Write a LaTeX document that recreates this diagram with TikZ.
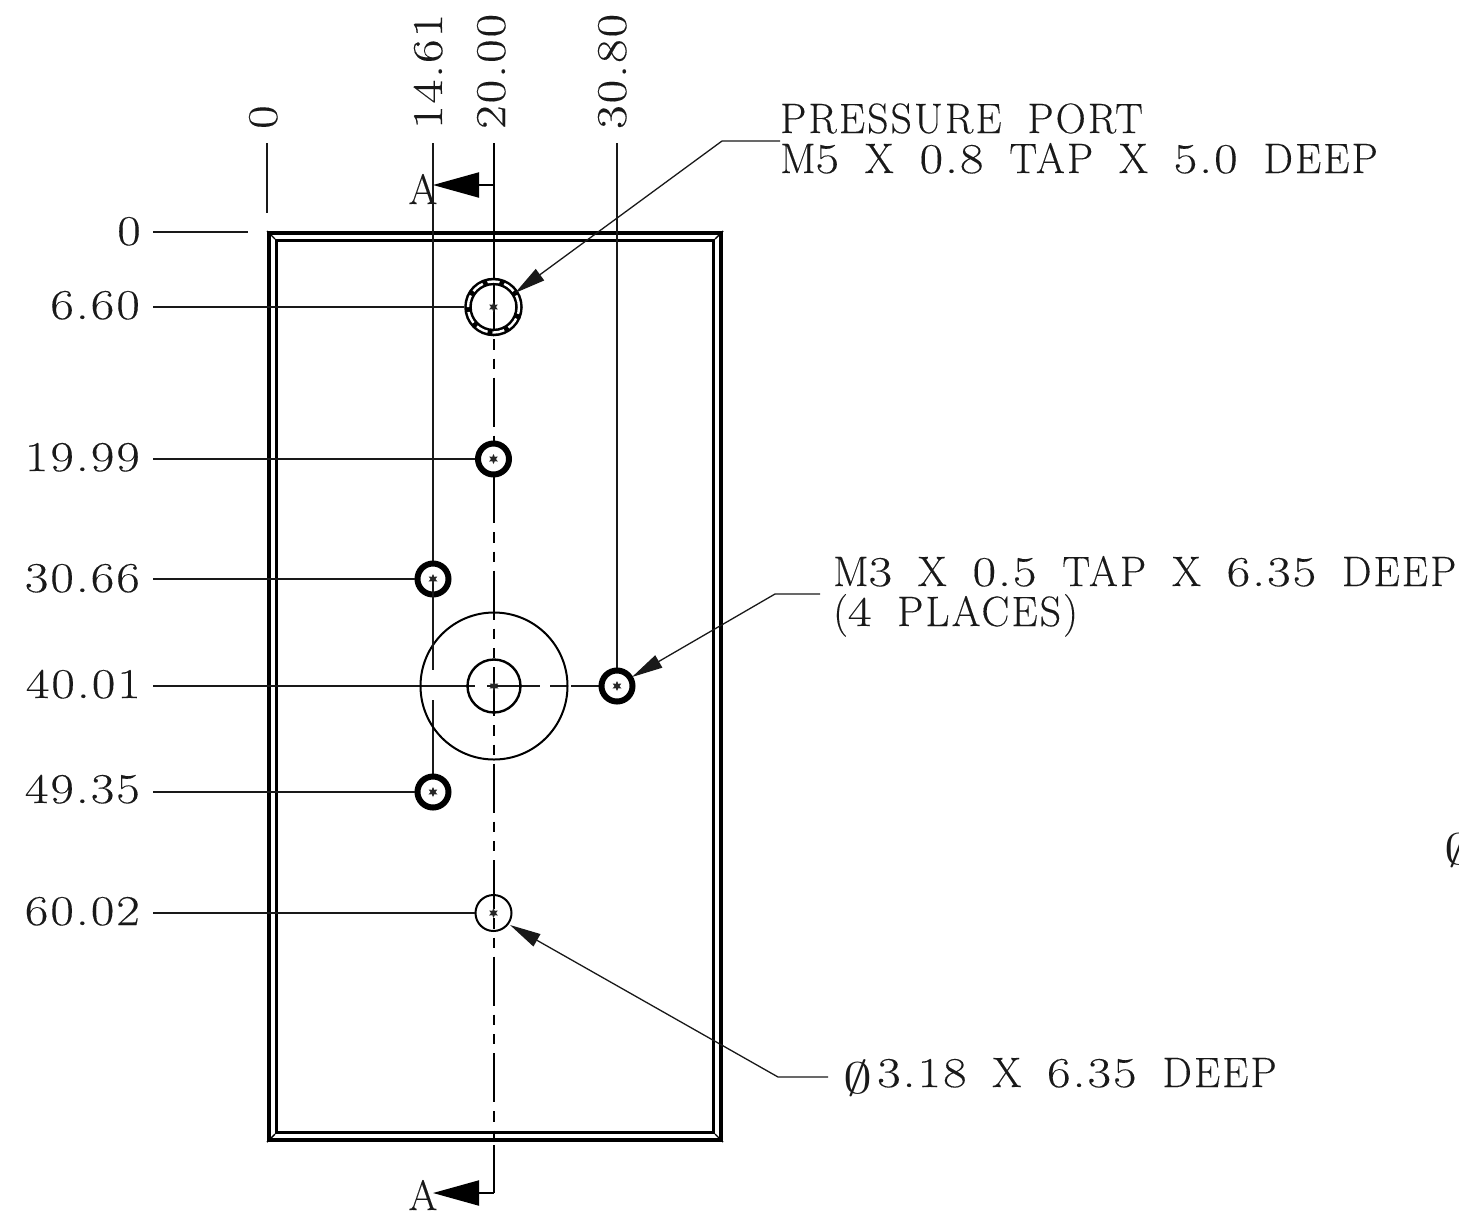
\documentclass[tikz,border=0pt]{standalone}
\usepackage{fontspec}
\usetikzlibrary{arrows.meta,calc,shapes.geometric}
\newfontfamily\cadfont[FakeStretch=0.98,LetterSpace=5,WordSpace=1.76,FakeBold=0.25]{Latin Modern Roman}
\newfontfamily\numfont[FakeStretch=1.2,LetterSpace=5,WordSpace=1.76,FakeBold=0.25]{Latin Modern Roman}
\newcommand{\dg}[1]{{\numfont #1}}
\newcommand{\diasym}{\resizebox{29pt}{33pt}{$\emptyset$}}
\tikzset{
  cad/.style={font=\cadfont\fontsize{42.5}{40}\selectfont,inner sep=0pt,text=black!90},
  num/.style={font=\numfont\fontsize{42.5}{40}\selectfont,inner sep=0pt,text=black!90},
  dimline/.style={line width=1.3pt,black!90},
  bigtip/.style={-{Triangle[length=46pt,width=25pt]}},
  leader/.style={dimline,-{Triangle[length=31pt,width=14pt]}},
  holeline/.style={circle,draw=black,inner sep=0pt},
  hole/.style={holeline,fill=white,line width=6pt,minimum size=31pt},
  thinhole/.style={holeline,line width=2pt},
  centredot/.style={star,star points=6,star point ratio=2,fill=black!85,inner sep=0pt,minimum size=10pt},
  centreline/.style={line width=2pt,black,dash pattern=on 49pt off 9pt on 10.5pt off 9pt on 10pt off 9pt},
}
\begin{document}
\begin{tikzpicture}[x=1pt,y=-1pt]
\useasboundingbox (0,0) rectangle (1459,1211);
% anchors
\coordinate (pc) at (493.5,307);
\coordinate (h2c) at (493.5,459);
\coordinate (h3c) at (433,579);
\coordinate (h4c) at (433,792);
\coordinate (h5c) at (617,686);
\coordinate (h6c) at (493.5,913);
\coordinate (bc) at (494,686);
% plate
\node[draw=black,line width=4pt,minimum width=452pt,minimum height=907pt,inner sep=0pt] (outer) at (495,686.5) {};
\node[draw=black,line width=3pt,minimum width=437pt,minimum height=892pt,inner sep=0pt] (inner) at (495,686.5) {};
\foreach \a in {north west,north east,south west,south east}{\draw[line width=1.4pt] (outer.\a)--(inner.\a);}
% centre and dim lines
\coordinate (ct) at (493.5,143);
\coordinate (ctb) at (493.5,281);
\coordinate (cbb) at (493.5,1145);
\coordinate (cb) at (493.5,1193);
\coordinate (sa1) at (493.5,185);
\coordinate (sa1t) at (433,185);
\coordinate (sa2t) at (433,1193);
\draw[line width=2pt] (ct)--(ctb);
\draw[centreline] (ctb)--(cbb);
\draw[line width=2pt] (cbb)--(cb);
\draw[line width=2pt,bigtip] (sa1)--(sa1t);
\draw[line width=2pt,bigtip] (cb)--(sa2t);
% extension lines
\coordinate (v0a) at (267,143);\coordinate (v0b) at (267,213);
\coordinate (h0a) at (153,232);\coordinate (h0b) at (248,232);
\draw[dimline] (v0a)--(v0b);
\draw[dimline] (h0a)--(h0b);
\coordinate (v146) at (433,143);
\coordinate (v308) at (617,143);
\coordinate (gapa) at (433,670);
\coordinate (gapb) at (433,700);
\draw[dimline] (v146)--(h3c);
\draw[dimline] (gapb)--(h4c);
\draw[dimline] (v308)--(h5c);
\coordinate (lbc) at (153,686);
\coordinate (bce) at (617,686);
\coordinate (ga) at (475,686);
\coordinate (gb) at (487,686);
\coordinate (gc) at (540,686);
\coordinate (gd) at (550,686);
\coordinate (ge) at (567,686);
\coordinate (gf) at (571,686);
\draw[dimline] (lbc)--(ga);
\draw[dimline] (gb)--(gc);
\draw[dimline] (gd)--(ge);
\draw[dimline] (gf)--(bce);
% holes
\node[holeline,line width=7.5pt,minimum size=51pt] (port) at (pc) {};
\draw[white,line width=2.4pt,dash pattern=on 12pt off 5pt] (pc) circle (25.5pt);
\node[hole] (h2) at (h2c) {};
\node[hole] (h3) at (h3c) {};
\node[hole] (h4) at (h4c) {};
\node[hole] (h5) at (h5c) {};
\node[thinhole,minimum size=36pt] (h6) at (h6c) {};
\node[thinhole,minimum size=147pt] (big) at (bc) {};
\node[thinhole,minimum size=53pt,line width=2.4pt] (bore) at (bc) {};
\draw[dimline] (h3c)--(gapa);
\foreach \y/\n in {307/port,459/h2,579/h3,792/h4,913/h6}{\coordinate (l\n) at (153,\y);\draw[dimline] (l\n)--(\n);}
\foreach \c/\n in {pc/d1,h2c/d2,h3c/d3,h4c/d4,h5c/d5,h6c/d6,bc/d7}{\node[centredot] (\n) at (\c) {};}
% section letters
\node[cad,anchor=base] (secA) at (423,204) {A};
\node[cad,anchor=base] (secB) at (423,1210) {A};
% horizontal dimensions
\node[num,anchor=base] (t0) at (129,245) {0};
\node[num,anchor=base east] (t1) at (140,319) {6.60};
\node[num,anchor=base east] (t2) at (140,471) {19.99};
\node[num,anchor=base east] (t3) at (140,592) {30.66};
\node[num,anchor=base east] (t4) at (141,698) {40.01};
\node[num,anchor=base east] (t5) at (140,803) {49.35};
\node[num,anchor=base east] (t6) at (140,925) {60.02};
% vertical dimensions
\node[num,anchor=base west,rotate=90] (u0) at (277,129) {0};
\node[num,anchor=base west,rotate=90] (u1) at (442,129) {14.61};
\node[num,anchor=base west,rotate=90] (u2) at (505,129) {20.00};
\node[num,anchor=base west,rotate=90] (u3) at (626,129) {30.80};
% notes
\node[cad,anchor=base west,align=left] (n1) at (780,173) {PRESSURE PORT\\M\dg{5} X \dg{0.8} TAP X \dg{5.0} DEEP};
\node[cad,anchor=base west,align=left] (n2) at (833,626) {M\dg{3} X \dg{0.5} TAP X \dg{6.35} DEEP\\(\dg{4} PLACES)};
\node[cad,anchor=base west] (n3) at (843,1087) {\raisebox{-6pt}{\diasym}\hspace{5pt}\dg{3.18} X \dg{6.35} DEEP};
\node[cad,anchor=base west] (n4) at (1444,858) {\raisebox{-6pt}{\diasym}};
% leaders
\coordinate (a1s) at (780,141);\coordinate (a1k) at (722,141);\coordinate (a1e) at (515,293);
\coordinate (a2s) at (820,594);\coordinate (a2k) at (775,594);\coordinate (a2e) at (632,677);
\coordinate (a3s) at (828,1077);\coordinate (a3k) at (778,1077);\coordinate (a3e) at (510,925);
\draw[leader] (a1s)--(a1k)--(a1e);
\draw[leader] (a2s)--(a2k)--(a2e);
\draw[leader] (a3s)--(a3k)--(a3e);
\end{tikzpicture}
\end{document}
